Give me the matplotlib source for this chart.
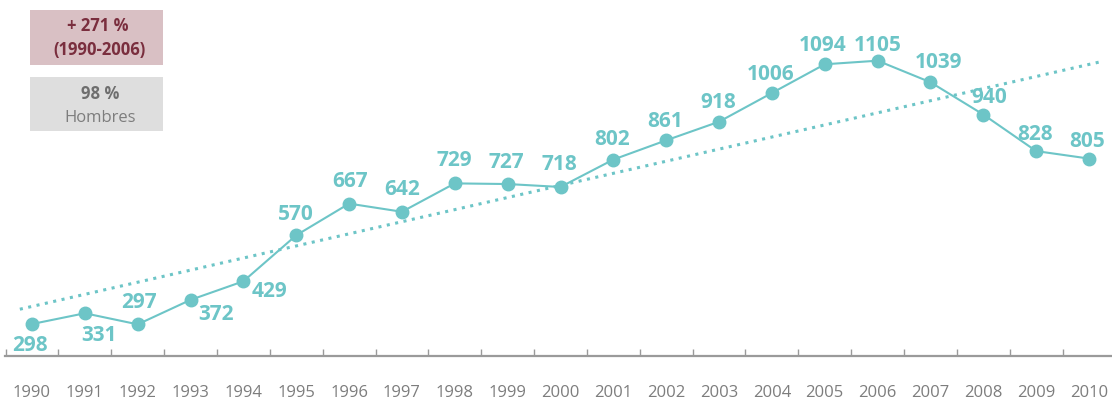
import numpy as np
import matplotlib.pyplot as plt
from matplotlib.patches import Rectangle

years = list(range(1990, 2011))
values = [298, 331, 297, 372, 429, 570, 667, 642, 729, 727, 718,
          802, 861, 918, 1006, 1094, 1105, 1039, 940, 828, 805]

box_growth = ["+ 271 %", "(1990-2006)"]
box_share = ["98 %", "Hombres"]

# label offsets from the point, in pixels (dx, dy up)
label_offsets = [(-2, -21), (14, -22), (1, 22), (25, -15), (26, -10),
                 (0, 21), (1, 22), (0, 22), (0, 23), (-1, 22), (-1, 22),
                 (-1, 20), (-1, 19), (-1, 19), (-1, 18), (-2, 19), (0, 15),
                 (8, 20), (6, 17), (-1, 17), (-2, 17)]

teal = "#6DC5C7"
W, H = 1112, 401

plt.rcParams["font.family"] = ["Open Sans", "DejaVu Sans"]

fig = plt.figure(figsize=(W / 100, H / 100), dpi=100)

ax = fig.add_axes([5 / W, (H - 356) / H, 1 - 5 / W, 356 / H])
ax.set_xlim(1990 - 27 / 52.85, 1990 + 1080 / 52.85)
ax.set_ylim(200, 1291)

# trend line (least squares)
coef = np.polyfit(years, values, 1)
tx = np.array([1989.77, 2010.23])
ax.plot(tx, np.polyval(coef, tx), color=teal, lw=2.2,
        linestyle=(0, (1, 1.8)), dash_capstyle="butt", zorder=2)

ax.plot(years, values, color=teal, lw=1.5, marker="o",
        markersize=9, zorder=3, clip_on=False)

px = 0.72
for x, v, (dx, dy) in zip(years, values, label_offsets):
    ax.annotate(
        str(v),
        (x, v),
        xytext=(dx * px, dy * px),
        textcoords="offset points",
        ha="center",
        va="center",
        fontsize=15,
        fontweight="bold",
        color=teal
    )

for s in ["top", "right", "left"]:
    ax.spines[s].set_visible(False)
ax.spines["bottom"].set_color("#9A9A9A")
ax.spines["bottom"].set_linewidth(1.6)
ax.set_yticks([])

ax.set_xticks([y - 0.5 for y in years])
ax.tick_params(axis="x", which="major", direction="in", length=5,
               width=1, color="#9A9A9A", labelbottom=False)
ax.set_xticks(years, minor=True)
ax.set_xticklabels([str(y) for y in years], minor=True)
ax.tick_params(axis="x", which="minor", length=0, pad=21,
               labelsize=12, labelcolor="#7D7D7D")

# info boxes
def box(x0, y0, x1, y1, color):
    fig.patches.append(Rectangle(
        (x0 / W, 1 - y1 / H), (x1 - x0) / W, (y1 - y0) / H,
        transform=fig.transFigure, facecolor=color, edgecolor="none"
    ))

box(30, 10, 163, 65, "#D9C0C4")
box(30, 77, 163, 131, "#DEDEDE")

fig.text(98 / W, 1 - 26 / H, box_growth[0], ha="center", va="center",
         fontsize=12, fontweight="bold", color="#7A2E3E")
fig.text(99 / W, 1 - 50 / H, box_growth[1], ha="center", va="center",
         fontsize=12, fontweight="bold", color="#7A2E3E")
fig.text(100 / W, 1 - 94 / H, box_share[0], ha="center", va="center",
         fontsize=12, fontweight="bold", color="#6E6E6E")
fig.text(100 / W, 1 - 118 / H, box_share[1], ha="center", va="center",
         fontsize=12, color="#7D7D7D")

fig.savefig("out.png", dpi=100)
plt.close()
